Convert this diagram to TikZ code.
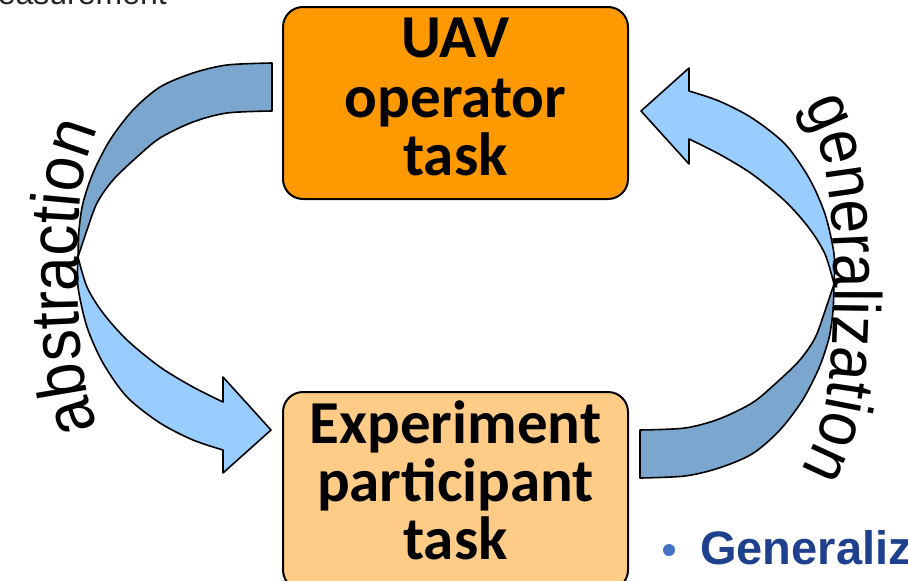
\documentclass[tikz,border=0pt]{standalone}
\usepackage{fontspec}
\setmainfont{Carlito}
\newfontfamily\arialfont{Liberation Sans}
\newfontfamily\arcfont[FakeStretch=0.9]{Liberation Sans}
\usetikzlibrary{decorations.text}
\definecolor{boxtop}{HTML}{FF9900}
\definecolor{boxbot}{HTML}{FFCC88}
\definecolor{arrdarkc}{HTML}{7BA7CF}
\definecolor{arrlightc}{HTML}{99CCFF}
\definecolor{genblue}{HTML}{1F408C}
\definecolor{bulblue}{HTML}{4472C4}
\tikzset{
  taskbox/.style={draw=black, line width=2pt, rounded corners=20pt, inner sep=0pt,
    minimum width=345pt},
  boxtext/.style={anchor=base, inner sep=0pt, font=\bfseries\fontsize{61}{61}\selectfont},
  arrdark/.style={fill=arrdarkc, draw=black, line width=1.6pt, line join=round},
  arrlight/.style={fill=arrlightc, draw=black, line width=1.6pt, line join=round},
  arclabel/.style={decorate, decoration={text along path, text align=center,
    text={#1}}},
}
\newcommand{\leftarrowshape}{%
  \filldraw[arrdark] plot[smooth] coordinates {(272,63) (227,65) (193,73) (160,87) (133,110) (110,140) (93,173) (83,203) (79,230) (78,257)}
    -- plot[smooth] coordinates {(78,257) (87,230) (97,203) (113,180) (137,157) (160,138) (193,122) (227,113) (272,111)} -- cycle;
  \filldraw[arrlight] plot[smooth] coordinates {(78,257) (78,287) (87,327) (103,363) (127,397) (160,423) (193,440) (223,450)}
    -- (223,473) -- (271,430) -- (223,377)
    -- plot[smooth] coordinates {(223,402) (193,387) (160,367) (127,340) (103,313) (87,287) (78,257)} -- cycle;
}
\begin{document}
\begin{tikzpicture}[x=1pt, y=-1pt]
\useasboundingbox (0,0) rectangle (908,581);
\clip (0,0) rectangle (908,581);

% curved arrows
\leftarrowshape
\begin{scope}[rotate around={180:(456,270.5)}]
\leftarrowshape
\end{scope}

% boxes
\node[taskbox, fill=boxtop, minimum height=192pt] (top) at (455.5,103) {};
\node[taskbox, fill=boxbot, minimum height=198pt] (bot) at (455.5,491) {};

\node[boxtext] (t1) at (455.5,57) {UAV};
\node[boxtext] (t2) at (455.5,117) {operator};
\node[boxtext] (t3) at (455.5,175) {task};

\node[boxtext] (b1) at (455.5,443) {Experiment};
\node[boxtext] (b2) at (455.5,501) {participant};
\node[boxtext] (b3) at (455.5,559) {task};

% arc labels
{\arcfont\fontsize{69}{69}\selectfont
\path[arclabel={abstraction}] (108,445) .. controls (80,400) and (78,330) .. (78,265)
   .. controls (78,200) and (82,150) .. (108,110);
}
{\arcfont\fontsize{67}{67}\selectfont
\path[arclabel={generalization}] (786,84) .. controls (822,114) and (834,187) .. (834,292)
   .. controls (834,392) and (822,447) .. (786,494);
}

% clipped slide text
\node[anchor=base east, inner sep=0pt, font=\arialfont\fontsize{32}{32}\selectfont, text=black!85] (meas) at (167,4) {easurement};
\node[circle, fill=bulblue, minimum size=12pt, inner sep=0pt] (bul) at (669,550) {};
\node[anchor=base west, inner sep=0pt, font=\arialfont\bfseries\fontsize{47}{47}\selectfont, text=genblue] (gen) at (700,564) {Generaliz};
\end{tikzpicture}
\end{document}
